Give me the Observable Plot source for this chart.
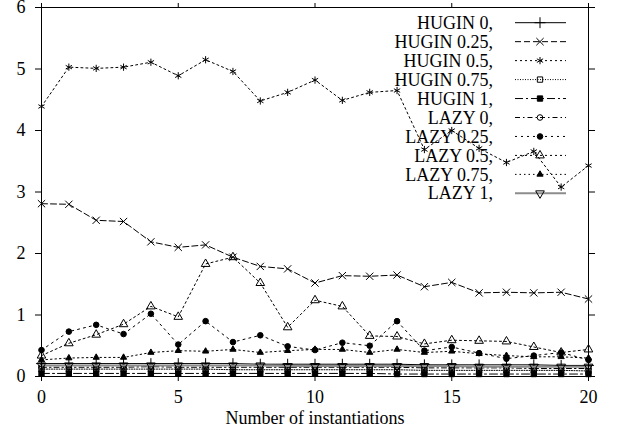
<!DOCTYPE html>
<html><head><meta charset="utf-8">
<script src="https://cdn.jsdelivr.net/npm/d3@7"></script>
<script src="https://cdn.jsdelivr.net/npm/@observablehq/plot@0.6"></script>
<style>
body{margin:0;background:#fff;}
#wrap{position:relative;width:623px;height:443px;}
#wrap svg.legend{position:absolute;left:0;top:0;pointer-events:none;}
#wrap svg, #wrap svg text{font-family:"Liberation Serif","Times New Roman",Times,"DejaVu Serif",serif;}
</style></head><body><div id="wrap"></div>
<script>
// ---- data ----
const xs = [0,1,2,3,4,5,6,7,8,9,10,11,12,13,14,15,16,17,18,19,20];
const xTicks = [0,5,10,15,20];
const yTicks = [0,1,2,3,4,5,6];
const xLabel = "Number of instantiations";

const hugin0   = [0.21,0.21,0.21,0.21,0.21,0.21,0.21,0.21,0.20,0.20,0.20,0.20,0.20,0.20,0.19,0.19,0.19,0.19,0.19,0.18,0.18];
const hugin025 = [2.81,2.80,2.54,2.52,2.19,2.10,2.14,1.94,1.79,1.75,1.52,1.64,1.63,1.65,1.46,1.53,1.36,1.37,1.36,1.37,1.26];
const hugin05  = [4.39,5.03,5.01,5.03,5.11,4.89,5.15,4.96,4.48,4.62,4.82,4.49,4.62,4.65,3.69,4.00,3.71,3.48,3.66,3.08,3.43];
const hugin075 = [0.12,0.12,0.12,0.12,0.12,0.12,0.12,0.11,0.11,0.11,0.11,0.11,0.11,0.11,0.10,0.10,0.10,0.10,0.10,0.10,0.09];
const hugin1   = [0.05,0.05,0.05,0.05,0.05,0.05,0.05,0.05,0.05,0.05,0.05,0.05,0.05,0.04,0.04,0.04,0.04,0.04,0.04,0.04,0.04];
const lazy0    = [0.15,0.15,0.15,0.15,0.16,0.15,0.15,0.15,0.15,0.15,0.15,0.15,0.15,0.15,0.14,0.14,0.14,0.14,0.13,0.13,0.13];
const lazy025  = [0.43,0.73,0.84,0.69,1.02,0.52,0.90,0.56,0.67,0.49,0.43,0.55,0.50,0.90,0.42,0.48,0.38,0.29,0.34,0.39,0.27];
const lazy05   = [0.34,0.54,0.68,0.85,1.14,0.97,1.83,1.94,1.52,0.80,1.24,1.14,0.66,0.65,0.53,0.59,0.58,0.57,0.48,0.39,0.44];
const lazy075  = [0.27,0.30,0.31,0.31,0.39,0.42,0.41,0.44,0.39,0.42,0.44,0.44,0.39,0.44,0.39,0.41,0.37,0.34,0.32,0.32,0.30];
const lazy1    = [0.18,0.18,0.18,0.18,0.18,0.18,0.18,0.18,0.18,0.17,0.17,0.17,0.17,0.17,0.17,0.17,0.16,0.16,0.16,0.16,0.16];

const seriesNames = ["HUGIN 0","HUGIN 0.25","HUGIN 0.5","HUGIN 0.75","HUGIN 1","LAZY 0","LAZY 0.25","LAZY 0.5","LAZY 0.75","LAZY 1"];
const seriesValues = [hugin0,hugin025,hugin05,hugin075,hugin1,lazy0,lazy025,lazy05,lazy075,lazy1];

// ---- styles ----
const downTriangle = {
  draw(ctx, size) {
    const s = Math.sqrt(size * 4 / Math.sqrt(3));
    const h = s * Math.sqrt(3) / 2;
    ctx.moveTo(0, 2*h/3);
    ctx.lineTo(s/2, -h/3);
    ctx.lineTo(-s/2, -h/3);
    ctx.closePath();
  }
};
const styles = [
  {dash:null,          stroke:"#000", width:1,   sym:"plus",     fill:"none", r:3.6},
  {dash:"6,3",         stroke:"#000", width:1,   sym:"times",    fill:"none", r:3.4},
  {dash:"2,3",         stroke:"#000", width:1,   sym:"asterisk", fill:"none", r:3.4},
  {dash:"1,1.5",       stroke:"#000", width:1,   sym:"square",   fill:"none", r:3.0},
  {dash:"8,3,2,3",     stroke:"#000", width:1,   sym:"square",   fill:"#000", r:3.0},
  {dash:"5,3,1.5,3",   stroke:"#000", width:1,   sym:"circle",   fill:"none", r:2.8},
  {dash:"2,4",         stroke:"#000", width:1,   sym:"circle",   fill:"#000", r:2.8},
  {dash:"2,3",         stroke:"#000", width:1,   sym:"triangle", fill:"none", r:3.2},
  {dash:"1.5,3",       stroke:"#000", width:1,   sym:"triangle", fill:"#000", r:2.3},
  {dash:null,          stroke:"#8c8c8c", width:2, sym:downTriangle, fill:"none", r:3.2}
];

const rows = seriesNames.flatMap((name, k) => xs.map((x, i) => ({series: name, x, y: seriesValues[k][i]})));

const marks = [];
seriesNames.forEach((name, k) => {
  const st = styles[k];
  const data = rows.filter(d => d.series === name);
  marks.push(Plot.line(data, {x:"x", y:"y", stroke: st.stroke, strokeWidth: st.width, strokeDasharray: st.dash || undefined}));
  marks.push(Plot.dot(data, {x:"x", y:"y", symbol: st.sym, r: st.r, stroke: "#000", fill: st.fill, strokeWidth: 1}));
});

const font = '"Liberation Serif","Times New Roman",Times,"DejaVu Serif",serif';
const chart = Plot.plot({
  width: 623, height: 443,
  marginLeft: 41, marginRight: 35, marginTop: 7, marginBottom: 67,
  style: {fontFamily: font, fontSize: "18px", background: "#fff", color: "#000", overflow: "visible"},
  x: {domain: [0, 20]},
  y: {domain: [0, 6]},
  marks: [
    ...marks,
    Plot.frame({stroke: "#000"}),
    Plot.axisX({ticks: xTicks, tickSize: 5, tickPadding: 9, label: null, tickFormat: d => String(d)}),
    Plot.axisX({anchor: "top", ticks: xTicks, tickSize: 5, label: null, tickFormat: () => ""}),
    Plot.axisY({ticks: yTicks, tickSize: 6, tickPadding: 10, label: null, tickFormat: d => String(d)}),
    Plot.axisY({anchor: "right", ticks: yTicks, tickSize: 6, label: null, tickFormat: () => ""}),
    Plot.text([xLabel], {frameAnchor: "bottom", dy: 42, lineAnchor: "middle", text: d => d, fontSize: 18})
  ]
});
const wrap = document.getElementById("wrap");
wrap.appendChild(chart);

// ---- legend overlay (top-right inside the frame) ----
const symMap = {plus: d3.symbolPlus, times: d3.symbolTimes, asterisk: d3.symbolAsterisk, square: d3.symbolSquare, circle: d3.symbolCircle, triangle: d3.symbolTriangle};
const lg = d3.select(wrap).append("svg").attr("class", "legend").attr("width", 623).attr("height", 443);
const textRight = 493, lineX0 = 515, lineX1 = 566, markX = 540, row0 = 22.7, rowStep = 18.96;
seriesNames.forEach((name, k) => {
  const st = styles[k];
  const cy = row0 + k * rowStep;
  lg.append("text").attr("x", textRight).attr("y", cy).attr("dy", "0.34em")
    .attr("text-anchor", "end").attr("font-size", 18).attr("fill", "#000")
    .text(name + ",");
  lg.append("line").attr("x1", lineX0).attr("x2", lineX1).attr("y1", cy).attr("y2", cy)
    .attr("stroke", st.stroke).attr("stroke-width", st.width).attr("stroke-dasharray", st.dash || null);
  const type = typeof st.sym === "string" ? symMap[st.sym] : st.sym;
  lg.append("path").attr("transform", `translate(${markX},${cy})`)
    .attr("d", d3.symbol().type(type).size(Math.PI * st.r * st.r)())
    .attr("fill", st.fill).attr("stroke", "#000").attr("stroke-width", 1);
});
</script></body></html>
